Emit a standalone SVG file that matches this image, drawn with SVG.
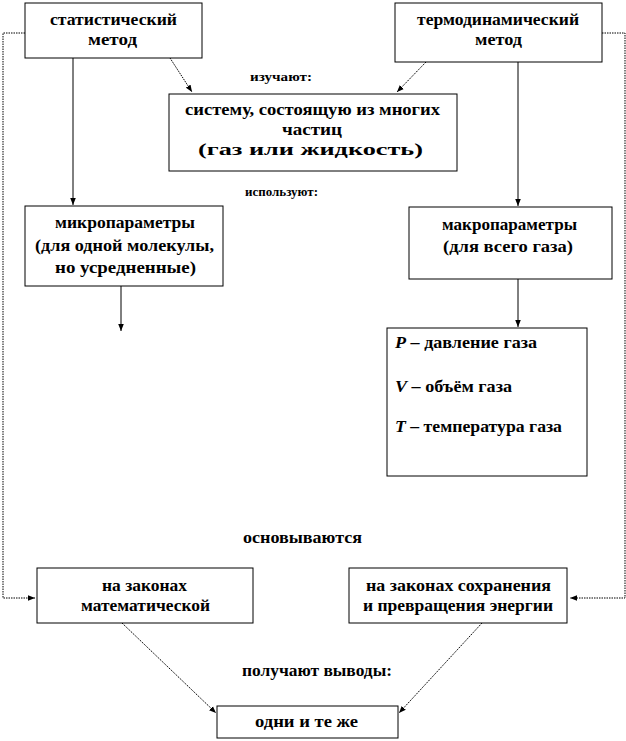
<svg xmlns="http://www.w3.org/2000/svg" width="626" height="741" viewBox="0 0 626 741">
<style>
.box{fill:#fff;stroke:#000;stroke-width:1}
.t{font-family:'Liberation Serif','Times New Roman',Tinos,'DejaVu Serif','Noto Serif',serif;font-weight:bold;font-size:17px;fill:#000;text-anchor:middle}
.l{text-anchor:start}
.s{font-size:13px}
.c{fill:none;stroke:#000;stroke-width:1}
.d{stroke-dasharray:1.5 1}
</style>
<defs>
<marker id="ah" viewBox="0 0 10 10" refX="10" refY="5" markerWidth="7" markerHeight="7" orient="auto" markerUnits="userSpaceOnUse">
<path d="M0,1 L10,5 L0,9 Z" fill="#000"/>
</marker>
</defs>
<rect width="626" height="741" fill="#fff"/>
<g id="connectors">
<polyline class="c d" points="25,33 3,33 3,598 35,598" marker-end="url(#ah)"/>
<polyline class="c d" points="602,33 625,33 625,598 570,598" marker-end="url(#ah)"/>
<line class="c" x1="73" y1="58" x2="73" y2="205" marker-end="url(#ah)"/>
<line class="c" x1="518" y1="62" x2="518" y2="206" marker-end="url(#ah)"/>
<line class="c d" x1="170" y1="58" x2="192" y2="92" marker-end="url(#ah)"/>
<line class="c d" x1="426" y1="62" x2="397" y2="92" marker-end="url(#ah)"/>
<line class="c" x1="121" y1="286" x2="121" y2="331" marker-end="url(#ah)"/>
<line class="c" x1="518" y1="279" x2="518" y2="327" marker-end="url(#ah)"/>
<line class="c d" x1="122" y1="623" x2="216" y2="713" marker-end="url(#ah)"/>
<line class="c d" x1="482" y1="623" x2="399" y2="713" marker-end="url(#ah)"/>
</g>
<g id="stat">
<rect class="box" x="25" y="3" width="177" height="55"/>
<text class="t" x="113.5" y="25" textLength="127" lengthAdjust="spacingAndGlyphs">статистический</text>
<text class="t" x="112.5" y="45" textLength="49" lengthAdjust="spacingAndGlyphs">метод</text>
</g>
<g id="thermo">
<rect class="box" x="395" y="3" width="207" height="59"/>
<text class="t" x="498" y="25" textLength="162" lengthAdjust="spacingAndGlyphs">термодинамический</text>
<text class="t" x="498.5" y="45" textLength="47" lengthAdjust="spacingAndGlyphs">метод</text>
</g>
<g id="system">
<rect class="box" x="169" y="94" width="288" height="77"/>
<text class="t" x="312.5" y="115" textLength="255" lengthAdjust="spacingAndGlyphs">систему, состоящую из многих</text>
<text class="t" x="312" y="135" textLength="60" lengthAdjust="spacingAndGlyphs">частиц</text>
<text class="t" x="310.5" y="155" textLength="225" lengthAdjust="spacingAndGlyphs">(газ или жидкость)</text>
</g>
<g id="label-study"><text class="t s" x="281" y="81" textLength="62" lengthAdjust="spacingAndGlyphs">изучают:</text></g>
<g id="label-use"><text class="t s" x="281.5" y="196" textLength="73" lengthAdjust="spacingAndGlyphs">используют:</text></g>
<g id="micro">
<rect class="box" x="25" y="206" width="198" height="80"/>
<text class="t" x="125" y="228" textLength="140" lengthAdjust="spacingAndGlyphs">микропараметры</text>
<text class="t" x="124.5" y="251" textLength="179" lengthAdjust="spacingAndGlyphs">(для одной молекулы,</text>
<text class="t" x="125.5" y="273" textLength="141" lengthAdjust="spacingAndGlyphs">но усредненные)</text>
</g>
<g id="macro">
<rect class="box" x="409" y="207" width="203" height="72"/>
<text class="t" x="509.5" y="230" textLength="135" lengthAdjust="spacingAndGlyphs">макропараметры</text>
<text class="t" x="508" y="252" textLength="130" lengthAdjust="spacingAndGlyphs">(для всего газа)</text>
</g>
<g id="params">
<rect class="box" x="387" y="328" width="200" height="148"/>
<text class="t l" x="395" y="348" textLength="142" lengthAdjust="spacingAndGlyphs"><tspan font-style="italic">P</tspan> – давление газа</text>
<text class="t l" x="395" y="392" textLength="117" lengthAdjust="spacingAndGlyphs"><tspan font-style="italic">V</tspan> – объём газа</text>
<text class="t l" x="395" y="432" textLength="167" lengthAdjust="spacingAndGlyphs"><tspan font-style="italic">T</tspan> – температура газа</text>
</g>
<g id="label-based"><text class="t" x="302.5" y="543" textLength="119" lengthAdjust="spacingAndGlyphs">основываются</text></g>
<g id="math">
<rect class="box" x="37" y="568" width="216" height="55"/>
<text class="t" x="144.5" y="591" textLength="85" lengthAdjust="spacingAndGlyphs">на законах</text>
<text class="t" x="145.5" y="611" textLength="129" lengthAdjust="spacingAndGlyphs">математической</text>
</g>
<g id="energy">
<rect class="box" x="349" y="568" width="218" height="55"/>
<text class="t" x="458.5" y="591" textLength="185" lengthAdjust="spacingAndGlyphs">на законах сохранения</text>
<text class="t" x="458" y="611" textLength="190" lengthAdjust="spacingAndGlyphs">и превращения энергии</text>
</g>
<g id="label-get"><text class="t" x="317" y="676" textLength="150" lengthAdjust="spacingAndGlyphs">получают выводы:</text></g>
<g id="same">
<rect class="box" x="217" y="706" width="181" height="32"/>
<text class="t" x="306.5" y="727" textLength="103" lengthAdjust="spacingAndGlyphs">одни и те же</text>
</g>
</svg>
